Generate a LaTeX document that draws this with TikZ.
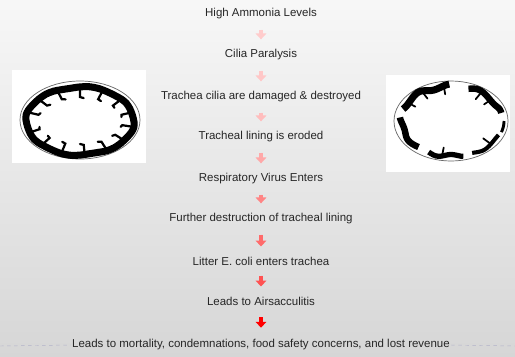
\documentclass[tikz,border=0pt]{standalone}
\usepackage{fontspec}
\setmainfont{Liberation Sans}
\usetikzlibrary{arrows.meta}

\tikzset{
    step text/.style={inner sep=1pt, font=\fontsize{9.8}{11}\selectfont, text=black!85},
    down arrow/.style={line width=3.6, -{Triangle[length=5, width=9]}},
    ring/.style={line width=6, black},
    cilium/.style={line width=1.9, black, line cap=round}
}

\begin{document}
\begin{tikzpicture}[x=0.03cm, y=-0.03cm]
    \useasboundingbox (0,0) rectangle (515,356);
    \shade[top color=black!3, bottom color=black!16] (0,0) rectangle (515,356);

    % healthy trachea
    \fill[white] (12,70) rectangle (146,163);
    \draw[black!60, line width=0.6] (80,120) ellipse [x radius=60, y radius=39];
    \draw[ring] plot[smooth cycle, domain=0:350, samples=36]
        ({80+54*cos(\x)+0.9*sin(5*\x)}, {121+34*sin(\x)+0.9*cos(7*\x)});
    \foreach \a in {10,35,60,85,110,135,160,195,220,245,270,295,320,345}
        \draw[cilium] ({80+53*cos(\a)}, {121+33*sin(\a)})
            -- ({80+43*cos(\a)}, {121+24*sin(\a)})
            -- ({80+42*cos(\a+5)}, {121+23*sin(\a+5)});

    % damaged trachea
    \fill[white] (386,75) rectangle (510,172);
    \draw[black!60, line width=0.6] (451,121) ellipse [x radius=57, y radius=40];
    \draw[ring, line width=6] plot[smooth, domain=200:268, samples=20]
        ({451+51*cos(\x)}, {121+35*sin(\x)+2*sin(9*\x)});
    \draw[ring, line width=5.5] plot[smooth, domain=290:350, samples=20]
        ({451+51*cos(\x)}, {121+35*sin(\x)+2*sin(8*\x)});
    \draw[ring, line width=5.5] plot[smooth, domain=130:186, samples=16]
        ({451+50*cos(\x)+2*sin(7*\x)}, {121+34*sin(\x)});
    \draw[ring, line width=4.5] plot[smooth, domain=76:116, samples=14]
        ({451+51*cos(\x)}, {121+35*sin(\x)+1.5*sin(11*\x)});
    \draw[ring, line width=3.5] plot[smooth, domain=24:66, samples=14]
        ({451+52*cos(\x)}, {121+36*sin(\x)+1.2*sin(9*\x)});
    \draw[ring, line width=2.5] plot[smooth, domain=0:18, samples=8]
        ({451+53*cos(\x)}, {121+36*sin(\x)});
    \foreach \a in {212,236,262,306,322,100,40}
        \draw[cilium, line width=1.5] ({451+50*cos(\a)}, {121+34*sin(\a)})
            -- ({451+42*cos(\a)}, {121+27*sin(\a)});

    % the chain of events
    \node[step text] (ammonia)     at (261,14)  {High Ammonia Levels};
    \node[step text] (paralysis)   at (261,55)  {Cilia Paralysis};
    \node[step text] (damaged)     at (261,97)  {Trachea cilia are damaged \& destroyed};
    \node[step text] (eroded)      at (261,137) {Tracheal lining is eroded};
    \node[step text] (virus)       at (261,179) {Respiratory Virus Enters};
    \node[step text] (destruction) at (261,219) {Further destruction of tracheal lining};
    \node[step text] (ecoli)       at (261,261) {Litter E. coli enters trachea};
    \node[step text] (airsac)      at (261,301) {Leads to Airsacculitis};
    \node[step text] (losses)      at (261,345) {Leads to mortality, condemnations, food safety concerns, and lost revenue};

    \foreach \from/\to/\tint/\gap in {ammonia/paralysis/20/7.6, paralysis/damaged/22/7.6,
            damaged/eroded/26/7.6, eroded/virus/34/7.6, virus/destruction/48/7.6,
            destruction/ecoli/58/7.6, ecoli/airsac/68/7.6, airsac/losses/100/9}
        \draw[down arrow, shorten <=\gap, shorten >=\gap,
              draw=red!\tint!white, fill=red!\tint!white] (\from) -- (\to);

    \coordinate (rule west) at (0,346);
    \coordinate (rule east) at (515,346);
    \draw[dashed, line width=0.4, blue!30!black!30] (rule west) -- (losses.west);
    \draw[dashed, line width=0.4, blue!30!black!30] (losses.east) -- (rule east);
\end{tikzpicture}
\end{document}
